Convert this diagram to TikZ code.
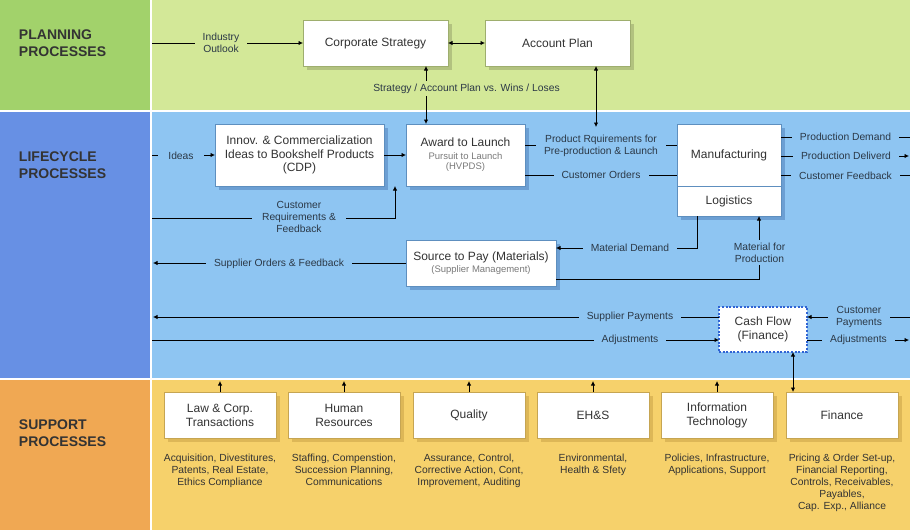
\documentclass[tikz,border=0pt]{standalone}
\usepackage{fontspec}
\setmainfont{Liberation Sans}
\usetikzlibrary{arrows.meta,calc}
\definecolor{planL}{HTML}{A2D26B}
\definecolor{planR}{HTML}{D3E898}
\definecolor{lifeL}{HTML}{6790E4}
\definecolor{lifeR}{HTML}{8EC5F2}
\definecolor{supL}{HTML}{F0A853}
\definecolor{supR}{HTML}{F6D16B}
\definecolor{txt}{HTML}{333333}
\definecolor{lbl}{HTML}{2B3846}
\definecolor{subg}{HTML}{7A7A7A}
\definecolor{pBorder}{HTML}{9EAE6E}
\definecolor{pShadow}{HTML}{B2C27F}
\definecolor{lBorder}{HTML}{5E8FBF}
\definecolor{lShadow}{HTML}{6C9FD3}
\definecolor{sBorder}{HTML}{C6A552}
\definecolor{sShadow}{HTML}{DDB757}
\definecolor{cfBorder}{HTML}{3064D4}
\newcommand{\subtxt}[1]{{\color{subg}\fontsize{9.5}{11}\selectfont #1}}
\begin{document}
\begin{tikzpicture}[x=1pt,y=-1pt,
  every node/.style={inner sep=0pt, outer sep=0pt},
  basebox/.style={draw, fill=white, line width=0.8pt, anchor=north west, align=center, text=txt, font=\fontsize{12}{14}\selectfont},
  shad/.style={preaction={fill=#1, draw=none, transform canvas={shift={(3.5pt,-3.5pt)}}}},
  pbox/.style={basebox, draw=pBorder, shad=pShadow},
  lbox/.style={basebox, draw=lBorder, shad=lShadow},
  sbox/.style={basebox, draw=sBorder, shad=sShadow, minimum width=112pt, minimum height=46pt},
  cfbox/.style={basebox, draw=cfBorder, line width=1.6pt, dash pattern=on 2pt off 1.6pt},
  conn/.style={line width=0.8pt, draw=black},
  arr/.style={conn, -{Latex[length=4.5pt,width=4.5pt]}},
  arrtwo/.style={conn, {Latex[length=4.5pt,width=4.5pt]}-{Latex[length=4.5pt,width=4.5pt]}},
  lab/.style={text=lbl, font=\fontsize{10.3}{12}\selectfont, align=center, inner xsep=8pt, inner ysep=2pt},
  planlab/.style={lab, fill=planR},
  lifelab/.style={lab, fill=lifeR},
  head/.style={anchor=west, align=left, text=txt, font=\fontsize{14}{17}\selectfont\bfseries},
  desc/.style={anchor=north, align=center, text=txt, font=\fontsize{10.3}{12}\selectfont}
]
\useasboundingbox (0,0) rectangle (910,530);
% bands
\fill[white] (0,0) rectangle (910,530);
\fill[planL] (0,0) rectangle (150,110);
\fill[planR] (152,0) rectangle (910,110);
\fill[lifeL] (0,112) rectangle (150,378);
\fill[lifeR] (152,112) rectangle (910,378);
\fill[supL] (0,380) rectangle (150,530);
\fill[supR] (152,380) rectangle (910,530);
% headers
\node[head] (hplan) at (19,43.5) {PLANNING\\PROCESSES};
\node[head] (hlife) at (19,165) {LIFECYCLE\\PROCESSES};
\node[head] (hsup) at (19,433.5) {SUPPORT\\PROCESSES};
% helper coordinates
\coordinate (c426) at (426,0);
\coordinate (c596) at (596,0);
\coordinate (c395) at (395,0);
\coordinate (c697) at (697,0);
\coordinate (c759) at (759,0);
\coordinate (c793) at (793,0);
\coordinate (y137) at (0,137);
\coordinate (y145) at (0,145);
\coordinate (y156) at (0,156);
\coordinate (y175) at (0,175);
\coordinate (y248) at (0,248);
\coordinate (y279) at (0,279);
\coordinate (y317) at (0,317);
\coordinate (y340) at (0,340);
\coordinate (y381) at (0,381);
\coordinate (indin) at (152,43);
\coordinate (ideain) at (152,155);
\coordinate (crin) at (152,218);
\coordinate (soout) at (153,263);
\coordinate (spout) at (153,317);
\coordinate (adjin) at (152,340);
\coordinate (pdout) at (910,137);
\coordinate (pdlout) at (909,156);
\coordinate (cfout) at (910,175);
\coordinate (cpin) at (910,317);
\coordinate (adjout) at (909,340);
\coordinate (apend) at (596,127);
% planning boxes
\node[pbox, minimum width=145pt, minimum height=46pt, text depth=1pt] (cs) at (303,20) {Corporate Strategy};
\node[pbox, minimum width=145pt, minimum height=46pt] (ap) at (485,20) {Account Plan};
% lifecycle boxes
\node[lbox, minimum width=169pt, minimum height=62pt, font=\fontsize{12}{13.5}\selectfont] (in) at (215,124) {Innov. \& Commercialization\\Ideas to Bookshelf Products\\(CDP)};
\node[lbox, minimum width=119pt, minimum height=62pt, font=\fontsize{12}{12.6}\selectfont] (aw) at (406,124) {Award to Launch\\\subtxt{Pursuit to Launch}\\[-2pt]\subtxt{(HVPDS)}};
\node[lbox, minimum width=104pt, minimum height=62pt, text depth=1pt] (mf) at (677,124) {Manufacturing};
\node[lbox, minimum width=104pt, minimum height=30pt, text depth=1pt] (lg) at (677,186) {Logistics};
\node[lbox, minimum width=150pt, minimum height=46pt, font=\fontsize{12}{12}\selectfont] (sp) at (406,240) {Source to Pay (Materials)\\\subtxt{(Supplier Management)}};
\node[cfbox, minimum width=88pt, minimum height=45pt] (cf) at (719,307) {Cash Flow\\(Finance)};
% support boxes
\node[sbox] (law) at (164,392) {Law \& Corp.\\Transactions};
\node[sbox] (hr) at (288,392) {Human\\Resources};
\node[sbox, text depth=1pt] (qu) at (413,392) {Quality};
\node[sbox] (ehs) at (537,392) {EH\&S};
\node[sbox] (it) at (661,392) {Information\\Technology};
\node[sbox] (fin) at (786,392) {Finance};
% descriptions
\node[desc] (dlaw) at (law.south |- 0,454) {Acquisition, Divestitures,\\Patents, Real Estate,\\Ethics Compliance};
\node[desc] (dhr) at (hr.south |- 0,454) {Staffing, Compenstion,\\Succession Planning,\\Communications};
\node[desc] (dqu) at (qu.south |- 0,454) {Assurance, Control,\\Corrective Action, Cont,\\Improvement, Auditing};
\node[desc] (dehs) at (ehs.south |- 0,454) {Environmental,\\Health \& Sfety};
\node[desc] (dit) at (it.south |- 0,454) {Policies, Infrastructure,\\Applications, Support};
\node[desc] (dfin) at (fin.south |- 0,454) {Pricing \& Order Set-up,\\Financial Reporting,\\Controls, Receivables,\\Payables,\\Cap. Exp., Alliance};
% connectors - planning
\draw[arr] (indin) -- (cs.west);
\draw[arrtwo] (cs.east) -- (ap.west);
\draw[arrtwo] (c426 |- cs.south) -- (c426 |- aw.north);
\draw[arrtwo] (c596 |- ap.south) -- (apend);
% connectors - lifecycle
\draw[arr] (ideain) -- (in.west);
\draw[arr] (in.east) -- (aw.west);
\draw[arr] (crin) -| (c395 |- aw.south);
\draw[conn] (aw.east |- y145) -- (mf.west |- y145);
\draw[conn] (aw.east |- y175) -- (mf.west |- y175);
\draw[conn] (mf.east |- y137) -- (pdout);
\draw[arr] (mf.east |- y156) -- (pdlout);
\draw[conn] (mf.east |- y175) -- (cfout);
\draw[arr] (c697 |- lg.south) |- (sp.east |- y248);
\draw[arr] (sp.east |- y279) -| (c759 |- lg.south);
\draw[arr] (sp.west) -- (soout);
\draw[arr] (cf.west |- y317) -- (spout);
\draw[arr] (adjin) -- (cf.west |- y340);
\draw[arr] (cpin) -- (cf.east |- y317);
\draw[arr] (cf.east |- y340) -- (adjout);
\draw[arrtwo] (c793 |- cf.south) -- (c793 |- fin.north);
% connectors - support
\draw[arr] (law.north) -- (law.north |- y381);
\draw[arr] (hr.north) -- (hr.north |- y381);
\draw[arr] (qu.north) -- (qu.north |- y381);
\draw[arr] (ehs.north) -- (ehs.north |- y381);
\draw[arr] (it.north) -- (it.north |- y381);
% labels
\node[planlab] (lind) at (221,42.5) {Industry\\Outlook};
\node[planlab, inner ysep=3pt] (lstr) at (466.5,88.5) {Strategy / Account Plan vs. Wins / Loses};
\node[lifelab, inner xsep=10pt] (lidea) at (181,155.5) {Ideas};
\node[lifelab, inner xsep=10pt] (lcr) at (299,216.5) {Customer\\Requirements \&\\Feedback};
\node[lifelab] (lpr) at (601,145.5) {Product Rquirements for\\Pre-production \& Launch};
\node[lifelab] (lco) at (601,175) {Customer Orders};
\node[lifelab] (lpd) at (845.5,137) {Production Demand};
\node[lifelab] (lpdl) at (846,156) {Production Deliverd};
\node[lifelab] (lcf) at (845.5,175.5) {Customer Feedback};
\node[lifelab] (lmd) at (630,248) {Material Demand};
\node[lifelab, inner ysep=3pt] (lmp) at (759.5,252.5) {Material for\\Production};
\node[lifelab] (lso) at (279,263.5) {Supplier Orders \& Feedback};
\node[lifelab] (lsp) at (630,317) {Supplier Payments};
\node[lifelab] (ladj) at (630,340) {Adjustments};
\node[lifelab] (lcp) at (859,316.5) {Customer\\Payments};
\node[lifelab] (ladjr) at (858.5,340) {Adjustments};
\end{tikzpicture}
\end{document}
